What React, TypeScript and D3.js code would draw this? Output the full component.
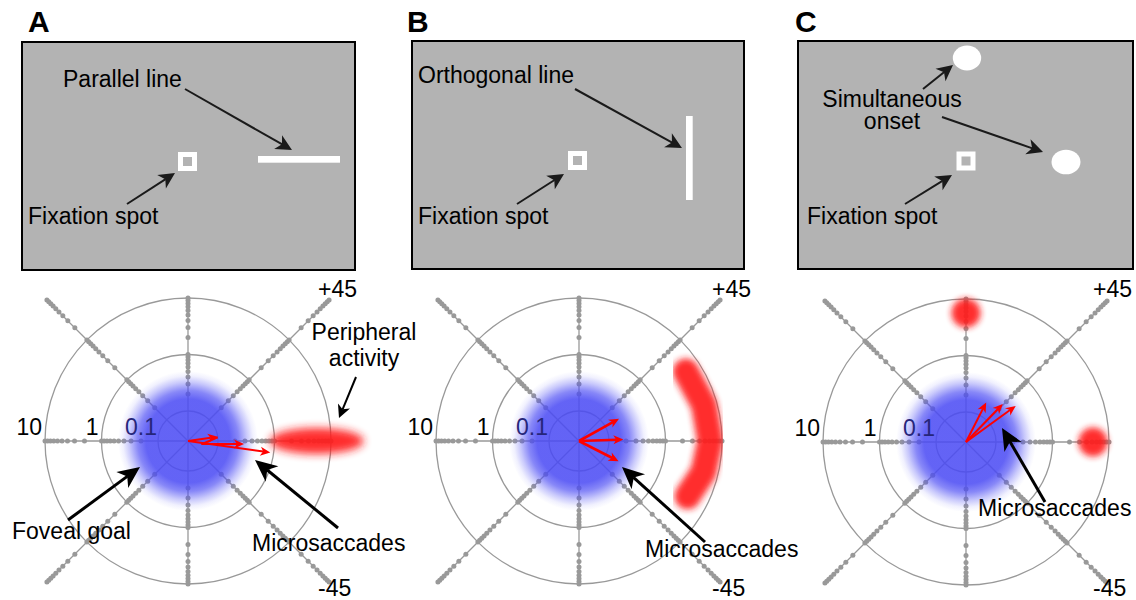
import React from "react";
import * as d3 from "d3";

// ---------- data ----------
const panelLetters = ["A", "B", "C"];
const ringValues = [0.1, 1, 10];
const ringLabels = ["0.1", "1", "10"];
const rayAngles = [0, 45, 90, 135, 180, 225, 270, 315];
const dotValuesMain = [0.2, 0.3, 0.4, 0.5, 0.6, 0.7, 0.8, 0.9, 1, 2, 3, 4, 5, 6, 7, 8, 9, 10];
const dotValuesDiagExtra = [20, 30, 40, 50, 60, 70, 80, 90, 100];
const rayEndStraight = 10;
const rayEndDiag = 100;
const meridianLabels = ["+45", "-45"];

// microsaccade vectors: polylines of (amplitude in deg, direction in deg); amp 0 = fixation
const microsaccadesA = [
  [{ amp: 0, dir: 0 }, { amp: 0.1, dir: 8 }],
  [{ amp: 0.1, dir: 7 }, { amp: 0.053, dir: -12 }, { amp: 0.29, dir: -3 }],
  [{ amp: 0, dir: 0 }, { amp: 0.87, dir: -8 }],
];
const microsaccadesB = [
  [{ amp: 0, dir: 0 }, { amp: 0.19, dir: 29 }],
  [{ amp: 0, dir: 0 }, { amp: 0.18, dir: 2 }],
  [{ amp: 0, dir: 0 }, { amp: 0.18, dir: -27 }],
];
const microsaccadesC = [
  [{ amp: 0, dir: 0 }, { amp: 0.18, dir: 63 }],
  [{ amp: 0, dir: 0 }, { amp: 0.255, dir: 46 }],
  [{ amp: 0, dir: 0 }, { amp: 0.36, dir: 36 }],
];
// peripheral activity
const peripheralA = [{ amp: 5.6, dir: 0 }];
const peripheralB = [{ amp: 5.3, dir: 33 }, { amp: 5.9, dir: 16 }, { amp: 6.2, dir: 0 }, { amp: 5.5, dir: -14 }, { amp: 4.2, dir: -27 }];
const peripheralC = [{ amp: 5.65, dir: 90 }, { amp: 5.21, dir: 0 }];

// ---------- layout ----------
const FONT = "'Liberation Sans', Arial, Helvetica, sans-serif";
const GRAY = "#999999";
const BOXFILL = "#b3b3b3";
const FS = 23;

const panels = [
  { letter: panelLetters[0], lx: 28, box: [22, 42, 333, 228], fix: [187.5, 161.5], cx: 188, cy: 441, labX: 318, ms: microsaccadesA, msW: 2 },
  { letter: panelLetters[1], lx: 407, box: [412, 41, 332, 228], fix: [577.5, 160.5], cx: 579, cy: 441, labX: 712, ms: microsaccadesB, msW: 2.6 },
  { letter: panelLetters[2], lx: 795, box: [798, 41, 335, 228], fix: [966, 161], cx: 966, cy: 442, labX: 1093, ms: microsaccadesC, msW: 2 },
];

const rScale = d3.scaleLog().domain([0.1, 10]).range([30, 143]);
const rad = (a: number) => (a * Math.PI) / 180;
const rOf = (amp: number) => (amp === 0 ? 0 : rScale(amp));
const pt = (cx: number, cy: number, amp: number, dir: number): [number, number] => {
  const r = rOf(amp);
  return [cx + r * Math.cos(rad(dir)), cy - r * Math.sin(rad(dir))];
};

function Arrow({ x1, y1, x2, y2, w = 2, hl = 16, hw = 8, color = "#1a1a1a", pts }: any) {
  const points: [number, number][] = pts || [[x1, y1], [x2, y2]];
  const n = points.length;
  const [ax, ay] = points[n - 2];
  const [bx, by] = points[n - 1];
  const ang = Math.atan2(by - ay, bx - ax);
  const ux = Math.cos(ang), uy = Math.sin(ang);
  const endX = bx - ux * hl * 0.7, endY = by - uy * hl * 0.7;
  const linePts = points.slice(0, n - 1).concat([[endX, endY]]);
  const head = [
    [bx, by],
    [bx - ux * hl - uy * hw, by - uy * hl + ux * hw],
    [bx - ux * hl * 0.72, by - uy * hl * 0.72],
    [bx - ux * hl + uy * hw, by - uy * hl - ux * hw],
  ];
  return (
    <g>
      <polyline points={linePts.map((p) => p.join(",")).join(" ")} fill="none" stroke={color} strokeWidth={w} strokeLinejoin="round" />
      <polygon points={head.map((p) => p.join(",")).join(" ")} fill={color} />
    </g>
  );
}

function Txt({ x, y, children, anchor = "start", size = FS, weight = "normal", fill = "#000" }: any) {
  return (
    <text x={x} y={y} textAnchor={anchor} fontSize={size} fontWeight={weight} fill={fill} fontFamily={FONT}>
      {children}
    </text>
  );
}

function Polar({ p, idx }: any) {
  const { cx, cy } = p;
  const lineGen = d3.line<[number, number]>().curve(d3.curveLinear);
  return (
    <g>
      {ringValues.map((v) => (
        <circle key={v} cx={cx} cy={cy} r={rScale(v)} fill="none" stroke={GRAY} strokeWidth={1.3} />
      ))}
      {rayAngles.map((a) => {
        const diag = a % 90 !== 0;
        const end = pt(cx, cy, diag ? rayEndDiag : rayEndStraight, a);
        const vals = diag ? dotValuesMain.concat(dotValuesDiagExtra) : dotValuesMain;
        return (
          <g key={a}>
            <line x1={cx} y1={cy} x2={end[0]} y2={end[1]} stroke={GRAY} strokeWidth={1.3} />
            {vals.map((v) => {
              const q = pt(cx, cy, v, a);
              return <circle key={v} cx={q[0]} cy={q[1]} r={2.5} fill={GRAY} />;
            })}
          </g>
        );
      })}
      {ringValues.map((v, i) =>
        v >= 1 ? (
          <Txt key={v} x={cx - rScale(v) - 3} y={cy - 6} anchor="end">
            {ringLabels[i]}
          </Txt>
        ) : null
      )}
      <circle cx={cx} cy={cy} r={70} fill="url(#blueBlob)" />
      <Txt x={cx - rScale(0.1) - 1} y={cy - 6} anchor="end" fill="#26267a">
        {ringLabels[0]}
      </Txt>
      {/* peripheral activity */}
      {idx === 0 &&
        peripheralA.map((b, i) => {
          const q = pt(cx, cy, b.amp, b.dir);
          return <ellipse key={i} cx={q[0]} cy={q[1]} rx={47} ry={13} fill="#ff1a1a" opacity={0.92} filter="url(#blur5)" />;
        })}
      {idx === 1 && (
        <path
          d={lineGen(peripheralB.map((b) => pt(cx, cy, b.amp, b.dir))) || ""}
          fill="none"
          stroke="#ff1a1a"
          strokeWidth={26}
          strokeLinecap="round"
          strokeLinejoin="round"
          opacity={0.92}
          filter="url(#blur3)"
        />
      )}
      {idx === 2 &&
        peripheralC.map((b, i) => {
          const q = pt(cx, cy, b.amp, b.dir);
          return <circle key={i} cx={q[0]} cy={q[1]} r={14.5} fill="#ff1a1a" opacity={0.92} filter="url(#blur3)" />;
        })}
      {/* microsaccades */}
      {p.ms.map((path: any[], i: number) => (
        <Arrow key={i} pts={path.map((s) => pt(cx, cy, s.amp, s.dir))} w={p.msW} hl={10} hw={4.5} color="#ff0000" />
      ))}
      <Txt x={p.labX} y={297}>{meridianLabels[0]}</Txt>
      <Txt x={p.labX} y={596}>{meridianLabels[1]}</Txt>
    </g>
  );
}

function Box({ p }: any) {
  const [x, y, w, h] = p.box;
  const [fx, fy] = p.fix;
  return (
    <g>
      <Txt x={p.lx} y={32} size={30} weight="bold">{p.letter}</Txt>
      <rect x={x} y={y} width={w} height={h} fill={BOXFILL} stroke="#000" strokeWidth={2} />
      <rect x={fx - 9.5} y={fy - 9.5} width={19} height={19} fill="#fff" />
      <rect x={fx - 4.5} y={fy - 4.5} width={9} height={9} fill={BOXFILL} />
    </g>
  );
}

export default function App() {
  return (
    <svg width={1136} height={600} style={{ position: "absolute", left: 0, top: 0, display: "block", background: "#fff" }}>
      <defs>
        <radialGradient id="blueBlob">
          <stop offset="0" stopColor="#4a4af4" stopOpacity={0.86} />
          <stop offset="0.6" stopColor="#4a4af4" stopOpacity={0.86} />
          <stop offset="0.72" stopColor="#4a4af4" stopOpacity={0.66} />
          <stop offset="0.84" stopColor="#4a4af4" stopOpacity={0.3} />
          <stop offset="0.93" stopColor="#4a4af4" stopOpacity={0.08} />
          <stop offset="1" stopColor="#4a4af4" stopOpacity={0} />
        </radialGradient>
        <filter id="blur5" x="-50%" y="-100%" width="200%" height="300%">
          <feGaussianBlur stdDeviation={4.5} />
        </filter>
        <filter id="blur3" x="-50%" y="-50%" width="200%" height="200%">
          <feGaussianBlur stdDeviation={3.4} />
        </filter>
      </defs>
      <rect x={0} y={0} width={1136} height={600} fill="#fff" />
      {panels.map((p, i) => (
        <g key={p.letter}>
          <Box p={p} />
          <Polar p={p} idx={i} />
        </g>
      ))}

      {/* Panel A stimuli & annotations */}
      <rect x={258} y={156} width={82} height={6.7} fill="#fff" />
      <Txt x={63} y={87}>Parallel line</Txt>
      <Arrow x1={185} y1={89} x2={292} y2={150} />
      <Txt x={28} y={224}>Fixation spot</Txt>
      <Arrow x1={127} y1={204} x2={175} y2={173} />
      <Txt x={364} y={340} anchor="middle">Peripheral</Txt>
      <Txt x={364} y={366} anchor="middle">activity</Txt>
      <Arrow x1={356} y1={377} x2={339} y2={418} w={2} hl={13} hw={6.5} color="#000" />
      <Txt x={12} y={539}>Foveal goal</Txt>
      <Arrow x1={68} y1={520} x2={140} y2={467} w={3} hl={22} hw={10} color="#000" />
      <Txt x={252} y={551}>Microsaccades</Txt>
      <Arrow x1={338} y1={528} x2={255} y2={460} w={3} hl={22} hw={10} color="#000" />

      {/* Panel B */}
      <rect x={686} y={116} width={6.7} height={84} fill="#fff" />
      <Txt x={418} y={83}>Orthogonal line</Txt>
      <Arrow x1={575} y1={89} x2={682} y2={148} />
      <Txt x={418} y={224}>Fixation spot</Txt>
      <Arrow x1={517} y1={204} x2={564} y2={174} />
      <Txt x={645} y={557}>Microsaccades</Txt>
      <Arrow x1={705} y1={542} x2={622} y2={467} w={3} hl={22} hw={10} color="#000" />

      {/* Panel C */}
      <ellipse cx={967} cy={58} rx={14.2} ry={12.5} fill="#fff" />
      <ellipse cx={1066} cy={162} rx={14.5} ry={12.3} fill="#fff" />
      <Txt x={892} y={107} anchor="middle">Simultaneous</Txt>
      <Txt x={892} y={129} anchor="middle">onset</Txt>
      <Arrow x1={923} y1={89} x2={953} y2={65} />
      <Arrow x1={942} y1={117} x2={1043} y2={152} />
      <Txt x={807} y={224}>Fixation spot</Txt>
      <Arrow x1={905} y1={204} x2={952} y2={175} />
      <Txt x={978} y={516}>Microsaccades</Txt>
      <Arrow x1={1045} y1={502} x2={1002} y2={428} w={3} hl={22} hw={10} color="#000" />
    </svg>
  );
}
